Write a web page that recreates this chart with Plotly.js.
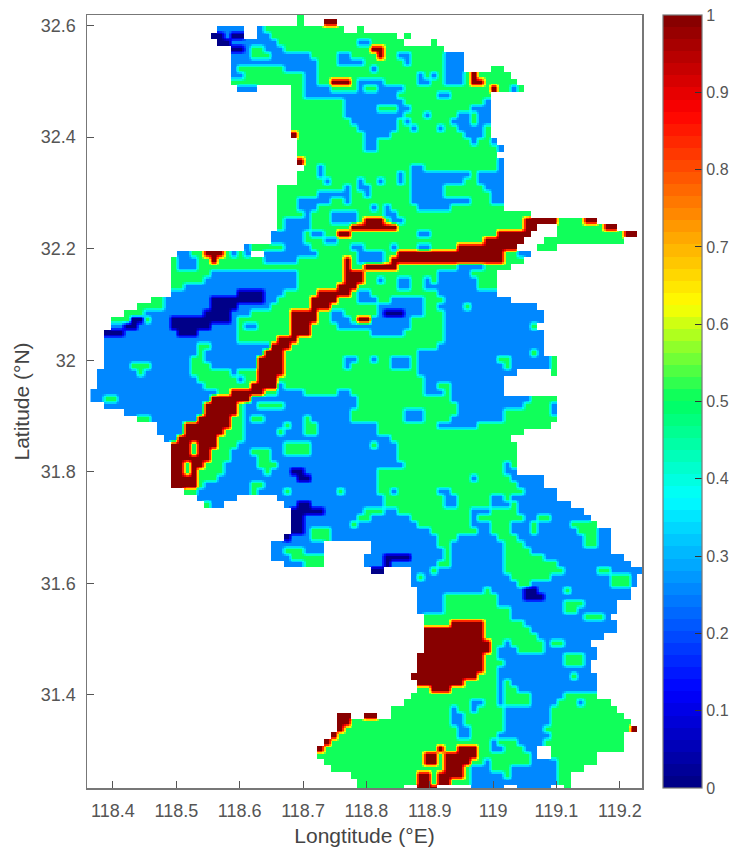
<!DOCTYPE html>
<html><head><meta charset="utf-8">
<script src="https://cdn.plot.ly/plotly-3.0.1.min.js"></script>
<style>html,body{margin:0;padding:0;background:#fff}</style></head>
<body><div id="chart" style="width:734px;height:849px"></div>
<script>
// Raster: each row (north to south) lists "column+class" change points.
const rowRuns = [
"31G 32.","31G 32. 35R 37.","19B 23. 25B 26G 38. 40G 41.","18N 20B 21N 23. 25B 27G 46. 47G 48.",
"19N 21B 28G 40B 42G 47. 51G 52.","21N 23B 24G 26B 29G 42R 44G 53.","21B 24G 27B 33G 37B 39G 43R 44G 46B 48G 53B 56.",
"21B 34G 37B 41G 47B 48G 53B 56.","21B 22G 29B 34G 42B 43G 53B 56. 60G 62.",
"21B 23G 32B 34G 49B 50G 51B 52G 53B 56G 57R 58G 63.","21G 32B 34G 36R 39G 40B 44G 49B 51G 53B 56G 57R 59G 64.",
"22B 25. 30G 32B 36G 40B 41G 43B 47G 60R 61G 63B 64G 65.","30G 32B 46G 52B 54G 60.","30G 38B 47G 59B 60.",
"30G 38B 43G 46B 48G 57B 60.","30G 38B 47G 50B 51G 55B 57G 58B 60.","30G 39B 46G 47B 48G 54B 57G 58B 60.",
"30G 40B 46G 48B 49G 52B 53G 55B 59G 60.","30R 31G 41B 45G 56B 59G 60.","31G 41B 43G 57B 58G 60B 61.","31G 41B 43G 61B 62.",
"31G 61.","31R 32G 61B 62.","32G 34B 35G 48B 50G 61B 62.","31G 34B 35G 46B 47G 48B 57G 58B 62.",
"31G 35B 36G 40B 41G 43B 44G 46B 47G 48B 56G 58B 62.","28G 38B 39G 40B 42G 48B 53G 59B 62.","28G 34B 39G 41B 42G 48B 53G 60B 62.",
"28G 31B 36G 38B 39G 48B 57G 60B 62.","28G 31B 34G 42B 43G 44B 45G 49B 54G 62.","28G 32B 33G 36B 40G 44B 46G 66.",
"28G 29B 33G 36B 40G 41R 44G 45B 47G 65R 70G 74R 76.","28G 29B 33G 39R 46G 65R 67. 70G 77R 79.",
"27B 32G 33B 35G 37R 39G 49B 51G 61R 66. 70G 80R 82.","27B 32G 35B 37G 59R 65. 68G 80.",
"23B 24G 29B 33G 39B 41G 45B 46G 49B 51G 55R 64. 67G 70.","13B 15G 17R 20G 21B 22G 23B 24. 26B 34G 40B 44G 46R 62G 64B 66.",
"12G 13B 16G 18R 19G 26B 31G 38R 39G 40B 44G 45R 62G 65.","12G 13B 16G 38R 39G 41R 46G 55B 59G 63.",
"12G 18B 31G 38R 41G 52B 57G 61.","12G 17B 31G 38R 41G 43B 44G 46B 48G 50B 51G 52B 58G 61.","12G 14B 31G 37R 40G 46B 48G 50B 58G 61.",
"12B 22N 26B 29G 34R 39G 40B 42G 52B 61.","9G 11B 18N 26B 28G 33R 37G 40B 43G 45B 50G 53B 63.",
"7G 11B 18N 22B 27G 33R 36G 43B 50G 52B 56G 57B 67.","5G 8B 17N 21B 24G 30R 34G 36B 38G 43B 44N 47B 50G 53B 68.",
"3G 6N 8G 9B 12N 21B 22G 30R 34G 36B 39G 40R 42B 48G 53B 68.","3B 5N 7B 12N 18B 22G 23B 25G 30R 33G 37B 48G 53B 66G 67.",
"2N 5B 13N 16B 22G 30R 33G 42B 47G 53B 68.","2B 22G 28R 31G 53B 68.","2B 16G 18B 27R 30G 52B 68.","2B 16G 17B 26R 29G 49B 66G 67B 68.",
"2B 15G 17B 25R 29G 38B 40G 42B 43G 45B 48G 49B 61G 63B 69G 70.","2B 6G 9B 15G 18B 25R 29G 38B 39G 45B 48G 49B 62G 63B 69G 70.",
"1B 7G 8B 15G 21B 22G 25R 29G 49B 64. 69G 70.","1B 16G 22B 23G 25R 28G 50B 62.","1B 17G 24R 28B 29G 50B 52G 54B 62.",
"0B 19G 21R 26G 28B 32G 37B 39G 50B 53G 54B 62.","0B 2G 4B 18R 24B 40G 54B 66G 70.","2B 17R 22G 23B 25G 29B 40G 55B 65G 69B 70.",
"5B 17R 22G 23B 39G 47B 50G 55B 62G 69B 70.","7G 9B 16R 21G 23B 24G 26B 32G 33B 39G 47B 50G 54B 62G 70.",
"10B 14R 21G 23B 29G 30B 32G 34B 43G 52B 58G 69.","10B 14R 20G 23B 28G 29B 32G 34B 43G 65.","11B 13R 19G 23B 45G 63.",
"12R 15G 16R 19G 22B 29G 33B 42G 43B 46G 64.","12R 15G 16R 18G 21B 24G 27B 29G 33B 46G 64.","12R 18G 21B 25G 27B 46G 64.",
"12R 14G 15R 17G 20B 25G 28B 47G 62B 63G 64.","12R 14G 15R 16G 20B 26G 27B 30N 32B 43G 62B 64.","12R 16G 19B 31N 33B 43G 57B 58G 63B 68.",
"12R 16G 17B 24G 26B 43G 64B 68.","14G 16B 24G 25B 29G 30B 37G 38B 43G 45B 46G 52B 54G 65B 70.","16B 22. 28B 44G 53B 55G 60B 62G 63B 70.",
"17G 18B 20. 29B 31N 33B 44G 53B 55G 60B 63G 64B 72.","30N 35B 41G 44B 46G 57B 60G 64B 74.","30N 32B 40G 42B 48G 57B 58G 65B 67G 69B 75.",
"30N 32B 39G 40B 49G 57B 60G 63B 66G 67B 72G 76.","30N 32B 33G 36B 51G 58B 60G 63B 66G 67B 73G 76B 78.","29N 30B 33G 36B 52G 55B 61G 64B 74G 76B 78.",
"27B 35. 42B 52G 54B 62G 65B 74G 76B 78.","27B 29G 32B 35. 42B 53G 54B 62G 66B 78.","27B 30G 35. 41B 44N 48B 53G 54B 62G 68B 80.",
"29B 32G 35. 41B 44N 45B 52G 54B 62G 70B 81.","42N 44. 48B 51G 52B 62G 71B 76G 78B 83.","48B 49G 50B 63G 69B 78G 81B 82.","48B 64G 66B 78G 81B 82.",
"49B 59G 60B 65N 67B 71G 72B 81.","49B 53G 61B 65N 68B 81.","49B 53G 61B 71G 74B 79.","49B 53G 63B 71G 73B 79.","50G 63B 74G 77B 78.",
"50G 54R 59G 65B 79.","50R 59G 66B 79.","50R 59G 67B 77.","50R 60G 62B 63G 68B 69G 71B 75.","50R 60G 61B 64G 68B 76.","49R 59G 61B 71G 74B 76.",
"49R 59G 62B 71G 74B 75.","49R 59G 61B 75.","48R 58G 61B 72G 73B 76.","49R 56G 61B 62G 63B 76.","49G 51R 54G 61B 62G 64B 76.","48G 61B 62G 66B 71G 76.",
"47G 57B 59G 61B 62G 66B 70G 73B 74G 78.","45G 54B 55G 57B 58G 60G 62B 69G 79.","37R 39. 41R 43. 45G 54B 56G 62B 69G 80.","37R 39G 54B 56G 62B 69G 81.",
"37R 38G 55B 57G 62B 68G 81R 82.","36R 37G 55B 57G 61B 69G 80.","35R 36G 60B 61G 64B 68G 80.","34R 35G 52R 53G 55R 58G 60B 62G 65B 67. 69G 80.",
"34G 50R 52G 53R 58G 66B 67. 69G 76.","35G 50R 52G 53R 57G 59B 60G 66B 70G 76.","36G 53R 56G 57B 60G 63B 70G 74.","39G 49R 51G 52R 56G 57B 62G 63B 70G 72.",
"40G 49R 51G 52R 54G 57B 70G 72.","40G 47. 49R 52. 57B 62. 64B 69. 71G 72."
];
const classValues = {N:0, B:0.25, G:0.5, R:1};
const colorStops = [[0,[0,0,128]],[0.125,[0,0,255]],[0.25,[0,128,255]],[0.375,[0,255,255]],[0.5,[0,255,96]],[0.625,[255,255,0]],[0.75,[255,128,0]],[0.875,[255,0,0]],[1,[128,0,0]]];
const colorbarTicks = [0,0.1,0.2,0.3,0.4,0.5,0.6,0.7,0.8,0.9,1];
const colorbarLabels = ["0","0.1","0.2","0.3","0.4","0.5","0.6","0.7","0.8","0.9","1"];
const lonTicks = [118.4,118.5,118.6,118.7,118.8,118.9,119,119.1,119.2];
const latTicks = [31.4,31.6,31.8,32,32.2,32.4,32.6];
const firstLon = 118.3698, stepLon = 0.01052, firstLat = 32.6169, stepLat = -0.01183;
const nCols = 84, sub = 4;

const cells = rowRuns.map(s => {
  const row = new Array(nCols).fill(null);
  const runs = [...s.matchAll(/(\d+)([BGNR.])/g)];
  runs.forEach((m,i) => {
    const a = +m[1], b = i+1<runs.length ? +runs[i+1][1] : a+1;
    if (m[2] !== '.') for (let c=a;c<b && c<nCols;c++) row[c] = classValues[m[2]];
  });
  return row;
});
// finer raster: each cell's rim mixes with its neighbours, giving the thin transition edges
const nR = cells.length, z = [];
const at = (r,c) => (r>=0&&r<nR&&c>=0&&c<nCols) ? cells[r][c] : null;
for (let i=0;i<nR*sub;i++){
  const line=[];
  for (let j=0;j<nCols*sub;j++){
    const r=Math.floor(i/sub), c=Math.floor(j/sub);
    if (at(r,c)===null){line.push(null);continue;}
    let s=0,n=0;
    for (let di=-1;di<=1;di++) for (let dj=-1;dj<=1;dj++){
      const v=at(Math.floor((i+di)/sub),Math.floor((j+dj)/sub));
      if(v!==null){s+=v;n++;}
    }
    line.push(s/n);
  }
  z.push(line);
}
function colorAt(t){
  for(let k=1;k<colorStops.length;k++){
    if(t<=colorStops[k][0]){
      const [t0,c0]=colorStops[k-1],[t1,c1]=colorStops[k],f=(t-t0)/(t1-t0);
      return 'rgb('+c0.map((v,q)=>Math.round(v+(c1[q]-v)*f)).join(',')+')';
    }
  }
}
const colorscale=[];
for(let k=0;k<64;k++){const col=colorAt((k+0.5)/64);colorscale.push([k/64,col],[(k+1)/64,col]);}
const fam='"Liberation Sans",Arial,sans-serif';
const fnt={family:fam,size:18,color:'#555'};
const axisCommon={showgrid:false,zeroline:false,showline:true,mirror:true,linecolor:'#777',linewidth:1.5,ticks:'inside',ticklen:7,tickcolor:'#555',tickfont:fnt,ticklabelstandoff:6};
Plotly.newPlot('chart',[{
  type:'heatmap',z:z,x0:firstLon-stepLon/2+stepLon/(2*sub),dx:stepLon/sub,y0:firstLat-stepLat/2+stepLat/(2*sub),dy:stepLat/sub,
  zmin:0,zmax:1,colorscale:colorscale,hoverongaps:false,
  colorbar:{x:1.0385,xanchor:'left',xpad:0,ypad:0,y:0.5,yanchor:'middle',len:1,lenmode:'fraction',thickness:39,thicknessmode:'pixels',
    outlinecolor:'#777',outlinewidth:1.2,ticks:'inside',ticklen:7,tickcolor:'#333',tickvals:colorbarTicks,ticktext:colorbarLabels,tickfont:{family:fam,size:16,color:'#555'}}
}],{
  width:734,height:849,margin:{l:87,r:92,t:15,b:61,autoexpand:false},paper_bgcolor:'#fff',plot_bgcolor:'#fff',
  xaxis:Object.assign({},axisCommon,{range:[118.359,119.235],tickvals:lonTicks,ticktext:lonTicks.map(String),
    title:{text:'Longtitude (°E)',font:{family:fam,size:21,color:'#444'},standoff:8}}),
  yaxis:Object.assign({},axisCommon,{range:[31.233,32.619],tickvals:latTicks,ticktext:latTicks.map(String),
    title:{text:'Latitude (°N)',font:{family:fam,size:21,color:'#444'},standoff:5}})
},{displayModeBar:false,staticPlot:true});
</script></body></html>
